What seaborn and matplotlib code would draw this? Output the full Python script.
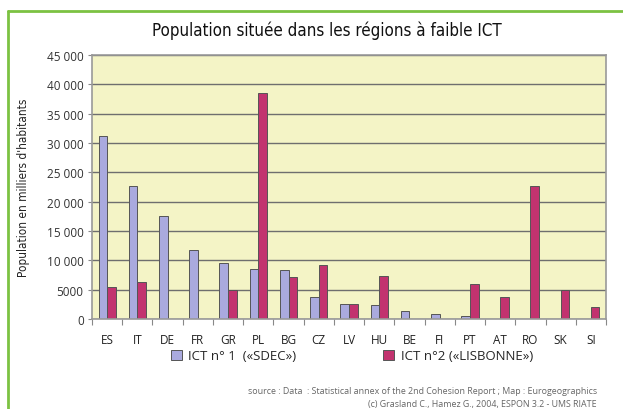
import matplotlib
matplotlib.use("Agg")
import matplotlib.pyplot as plt
from matplotlib.lines import Line2D
import seaborn as sns
import pandas as pd

countries = ["ES", "IT", "DE", "FR", "GR", "PL", "BG", "CZ", "LV",
             "HU", "BE", "FI", "PT", "AT", "RO", "SK", "SI"]
ict1_sdec = [31200, 22700, 17500, 11700, 9600, 8600, 8400, 3700, 2550,
             2400, 1400, 800, 550, 0, 0, 0, 0]
ict2_lisbonne = [5500, 6350, 0, 0, 4900, 38600, 7100, 9250, 2550,
                 7400, 0, 0, 6000, 3700, 22700, 5000, 2100]
series_names = ["ICT n° 1  («SDEC»)", "ICT n°2 («LISBONNE»)"]
y_ticks = [0, 5000, 10000, 15000, 20000, 25000, 30000, 35000, 40000, 45000]
y_tick_labels = ["0", "5000", "10 000", "15 000", "20 000", "25 000",
                 "30 000", "35 000", "40 000", "45 000"]

df = pd.DataFrame({
    "pays": countries * 2,
    "population": ict1_sdec + ict2_lisbonne,
    "serie": [series_names[0]] * len(countries) + [series_names[1]] * len(countries),
})

sns.set_style("white")
plt.rcParams["font.family"] = ["Open Sans", "DejaVu Sans"]

W, H = 623, 410
fig = plt.figure(figsize=(W / 100, H / 100), dpi=100)
ax = fig.add_axes([92 / W, 1 - 320 / H, (606 - 92) / W, (320 - 56) / H])
ax.set_facecolor("#f4f4c6")

palette = {series_names[0]: "#aaaade", series_names[1]: "#c2336f"}
sns.barplot(data=df, x="pays", y="population", hue="serie", palette=palette,
            width=0.57, edgecolor="#555555", linewidth=0.7, saturation=1,
            ax=ax, legend=True)

ax.set_ylim(0, 45000)
ax.set_xlim(-0.5, len(countries) - 0.5)
ax.set_yticks(y_ticks)
ax.set_yticklabels(y_tick_labels, fontsize=8.5, color="#333333")
ax.yaxis.grid(True, color="#6e6e6e", linewidth=1.0)
ax.set_axisbelow(True)
ax.tick_params(axis="y", length=3, width=0.8, color="#888888", pad=3, left=True)

# category labels centred, tick marks on the boundaries
ax.set_xticks(range(len(countries)))
ax.set_xticklabels(countries, fontsize=8.5, color="#222222")
ax.tick_params(axis="x", length=0, pad=10)
ax.set_xticks([i - 0.5 for i in range(len(countries) + 1)], minor=True)
ax.tick_params(axis="x", which="minor", length=4, width=0.8, color="#888888", bottom=True)

for side in ["top", "right", "left", "bottom"]:
    ax.spines[side].set_visible(True)
    ax.spines[side].set_color("#999999")
    ax.spines[side].set_linewidth(1.2)

ax.set_xlabel("")
ax.set_ylabel("Population en milliers d'habitants", fontsize=8.5,
              family=["DejaVu Sans"], fontstretch="condensed",
              color="#222222", labelpad=12)

handles, labels = ax.get_legend_handles_labels()
ax.get_legend().remove()
fig.legend(handles, labels, loc="center", bbox_to_anchor=(352 / W, 1 - 357 / H),
           ncol=2, frameon=False, fontsize=9.5, handlelength=0.8, handleheight=0.8,
           handletextpad=0.5, columnspacing=6.6)

fig.text(327 / W, 1 - 31 / H, "Population située dans les régions à faible ICT",
         ha="center", va="center", fontsize=12.2, color="#111111",
         family=["DejaVu Sans"], fontstretch="condensed")

fig.text(597 / W, 1 - 392 / H,
         "source : Data  : Statistical annex of the 2nd Cohesion Report ; Map : Eurogeographics",
         ha="right", va="center", fontsize=6.4, color="#666666")
fig.text(597 / W, 1 - 405 / H,
         "(c) Grasland C., Hamez G., 2004, ESPON 3.2 - UMS RIATE",
         ha="right", va="center", fontsize=6.4, color="#666666")

# green frame along the top and left edges
green = "#7cc242"
fig.add_artist(Line2D([8 / W, 1.0], [1 - 12 / H, 1 - 12 / H], color=green,
                      linewidth=2, transform=fig.transFigure))
fig.add_artist(Line2D([8 / W, 8 / W], [0, 1 - 12 / H], color=green,
                      linewidth=2, transform=fig.transFigure))

fig.savefig("out.png", dpi=100, facecolor="white")
